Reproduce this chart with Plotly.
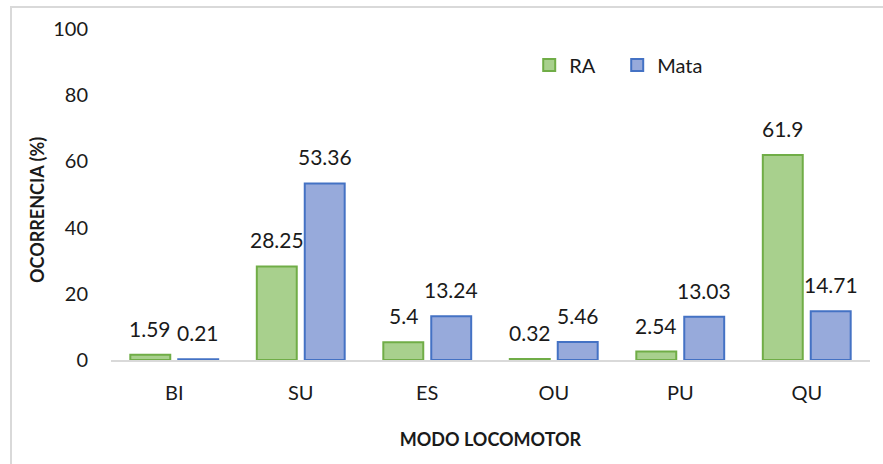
import plotly.graph_objects as go

categories = ["BI", "SU", "ES", "OU", "PU", "QU"]
ra_values = [1.59, 28.25, 5.4, 0.32, 2.54, 61.9]
mata_values = [0.21, 53.36, 13.24, 5.46, 13.03, 14.71]
y_ticks = [0, 20, 40, 60, 80, 100]

FONT = "Lato, 'Open Sans', sans-serif"
LABEL_SIZE = 21

W, H = 883, 464
ml, mr, mt, mb = 111, 13, 29, 104
pw, ph = W - ml - mr, H - mt - mb

BARGAP, GROUPGAP = 0.242, 0.167
slot = pw / len(categories) * (1 - BARGAP) / 2  # px width of one bar slot

fig = go.Figure()
fig.add_trace(go.Bar(
    name="RA", x=categories, y=ra_values,
    marker=dict(color="#a8d08d", line=dict(color="#70ad47", width=2)),
))
fig.add_trace(go.Bar(
    name="Mata", x=categories, y=mata_values,
    marker=dict(color="#97aadb", line=dict(color="#4472c4", width=2)),
))

annotations = []
for vals, side in ((ra_values, -1), (mata_values, 1)):
    for c, v in zip(categories, vals):
        annotations.append(dict(
            x=c, y=v, xref="x", yref="y", text=f"{v:g}", showarrow=False,
            xanchor="center", yanchor="bottom", xshift=side * slot / 2, yshift=12,
            font=dict(size=LABEL_SIZE, family=FONT, color="#1a1a1a"),
        ))
annotations.append(dict(
    text="<b>OCORRENCIA (%)</b>", textangle=-90, showarrow=False,
    xref="paper", yref="paper", x=(37 - ml) / pw, y=(ph + mt - 210) / ph,
    xanchor="center", yanchor="middle",
    font=dict(size=18, family=FONT, color="#1a1a1a"),
))

fig.update_layout(
    width=W, height=H,
    margin=dict(l=ml, r=mr, t=mt, b=mb, autoexpand=False),
    paper_bgcolor="white", plot_bgcolor="white",
    font=dict(family=FONT, size=20, color="#1a1a1a"),
    barmode="group", bargap=BARGAP, bargroupgap=GROUPGAP,
    showlegend=True,
    legend=dict(orientation="h", x=0.551, y=0.891, xanchor="left", yanchor="middle",
                font=dict(size=20, family=FONT), bgcolor="rgba(0,0,0,0)",
                entrywidth=43, entrywidthmode="pixels", traceorder="normal"),
    xaxis=dict(showgrid=False, showline=True, linecolor="#d9d9d9", linewidth=2,
               automargin=False,
               ticks="", tickfont=dict(size=20, family=FONT), ticklabelstandoff=14,
               title=dict(text="<b>MODO LOCOMOTOR</b>", font=dict(size=18, family=FONT), standoff=30)),
    yaxis=dict(range=[0, 100], tickvals=y_ticks, showgrid=False, zeroline=False, showline=False,
               automargin=False,
               ticks="", tickfont=dict(size=20, family=FONT), ticklabelstandoff=22),
    annotations=annotations,
    shapes=[dict(type="rect", xref="paper", yref="paper",
                 x0=(11 - ml) / pw, x1=(W + 10 - ml) / pw,
                 y0=-(H + 10 - mt - ph) / ph, y1=(ph + mt - 7) / ph,
                 line=dict(color="#d9d9d9", width=2), fillcolor="rgba(0,0,0,0)", layer="above")],
)

fig.write_html("out.html", config={"displayModeBar": False},
               post_script="document.body.style.margin='0';")
